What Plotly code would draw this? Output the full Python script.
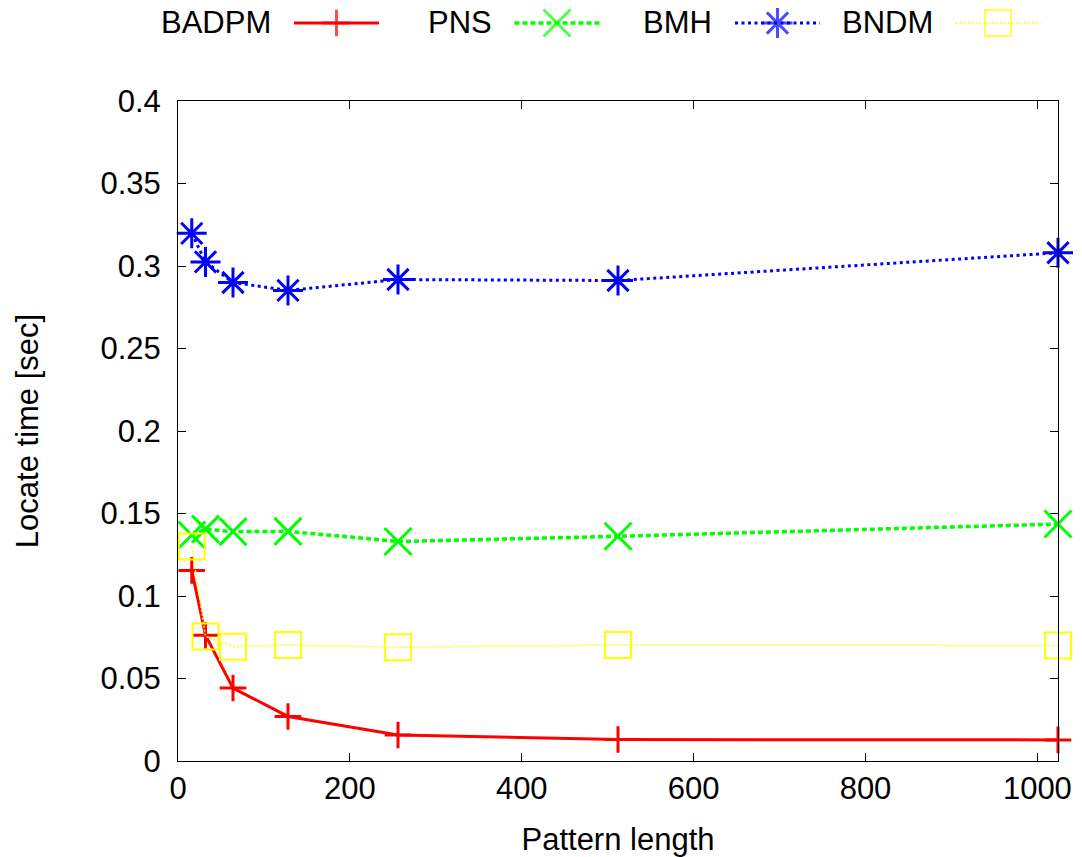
import plotly.graph_objects as go

# ---- data ----
pattern_length = [16, 32, 64, 128, 256, 512, 1024]
badpm = [0.1155, 0.0762, 0.0442, 0.0270, 0.0158, 0.0130, 0.0128]
pns = [0.1370, 0.1405, 0.1390, 0.1392, 0.1330, 0.1362, 0.1436]
bmh = [0.3198, 0.3025, 0.2900, 0.2852, 0.2918, 0.2912, 0.3080]
bndm = [0.1300, 0.0755, 0.0693, 0.0703, 0.0690, 0.0703, 0.0700]

series_names = ["BADPM", "PNS", "BMH", "BNDM"]
x_tick_vals = [0, 200, 400, 600, 800, 1000]
x_tick_text = ["0", "200", "400", "600", "800", "1000"]
y_tick_vals = [0, 0.05, 0.1, 0.15, 0.2, 0.25, 0.3, 0.35, 0.4]
y_tick_text = ["0", "0.05", "0.1", "0.15", "0.2", "0.25", "0.3", "0.35", "0.4"]

# ---- styles ----
W, H = 1082, 857
ML, MR, MT, MB = 178, 24, 0, 96
PLOT_TOP = 101          # pixel row of the top border of the data area
FONT = "Liberation Sans, Arial, Helvetica, sans-serif"
FS = 31

styles = [
    dict(color="#ff0000", dash="solid", width=3, symbol="cross-thin", size=19, mlw=3),
    dict(color="#00ff00", dash="5px,3px", width=3.5, symbol="x-thin", size=27, mlw=3),
    dict(color="#0000ff", dash="3px,3.5px", width=3, symbol="asterisk-open", size=25, mlw=3),
    dict(color="#ffff00", dash="2px,2px", width=1.5, symbol="square-open", size=26, mlw=2),
]
values = [badpm, pns, bmh, bndm]

area_h = H - MT - MB
main_top = (area_h - (PLOT_TOP - MT)) / area_h

fig = go.Figure()
for name, vals, st in zip(series_names, values, styles):
    fig.add_trace(go.Scatter(
        x=pattern_length, y=vals, name=name, mode="lines+markers",
        line=dict(color=st["color"], dash=st["dash"], width=st["width"]),
        marker=dict(symbol=st["symbol"], size=st["size"], color=st["color"],
                    line=dict(color=st["color"], width=st["mlw"])),
        cliponaxis=False, showlegend=False,
    ))

# ---- gnuplot-like key (text, then line sample) ----
def paper_x(px):
    return (px - ML) / (W - ML - MR)

def paper_y(py):
    return (H - MB - py) / area_h

key_y = 23
key_step = 220.5
text_right0 = 273
sample_start0 = 294
sample_len = 85
for i, (name, st) in enumerate(zip(series_names, styles)):
    tr = text_right0 + i * key_step
    s0 = sample_start0 + i * key_step
    fig.add_annotation(x=paper_x(tr), y=paper_y(key_y), xref="paper", yref="paper",
                       text=name, showarrow=False, xanchor="right", yanchor="middle",
                       font=dict(family=FONT, size=FS, color="black"))
    fig.add_trace(go.Scatter(
        x=[s0, s0 + sample_len / 2, s0 + sample_len], y=[key_y] * 3,
        mode="lines+markers", xaxis="x2", yaxis="y2",
        line=dict(color=st["color"], dash=st["dash"], width=st["width"]),
        marker=dict(symbol=st["symbol"], size=[0, st["size"], 0], color=st["color"],
                    line=dict(color=st["color"], width=st["mlw"])),
        cliponaxis=False, showlegend=False, hoverinfo="skip",
    ))

axis_common = dict(showline=True, linecolor="black", linewidth=1, mirror="ticks",
                   ticks="inside", ticklen=8, tickwidth=1, tickcolor="black",
                   showgrid=False, zeroline=False, automargin=False,
                   tickfont=dict(family=FONT, size=FS, color="black"))

fig.update_layout(
    template="none",
    width=W, height=H,
    margin=dict(l=ML, r=MR, t=MT, b=MB, pad=0),
    paper_bgcolor="white", plot_bgcolor="white",
    font=dict(family=FONT, size=FS, color="black"),
    xaxis=dict(range=[0, 1024], tickvals=x_tick_vals, ticktext=x_tick_text,
               title=dict(text="Pattern length", font=dict(family=FONT, size=FS), standoff=23),
               **axis_common),
    yaxis=dict(range=[0, 0.4], domain=[0, main_top], tickvals=y_tick_vals, ticktext=y_tick_text,
               ticklabelstandoff=10,
               title=dict(text="Locate time [sec]", font=dict(family=FONT, size=FS), standoff=52),
               **axis_common),
    xaxis2=dict(range=[ML, W - MR], overlaying="x", visible=False, fixedrange=True),
    yaxis2=dict(range=[60, 0], domain=[(area_h - 60) / area_h, 1], anchor="x2",
                visible=False, fixedrange=True),
)

fig.write_html("out.html", config={"displayModeBar": False},
               post_script="document.body.style.margin='0';")
